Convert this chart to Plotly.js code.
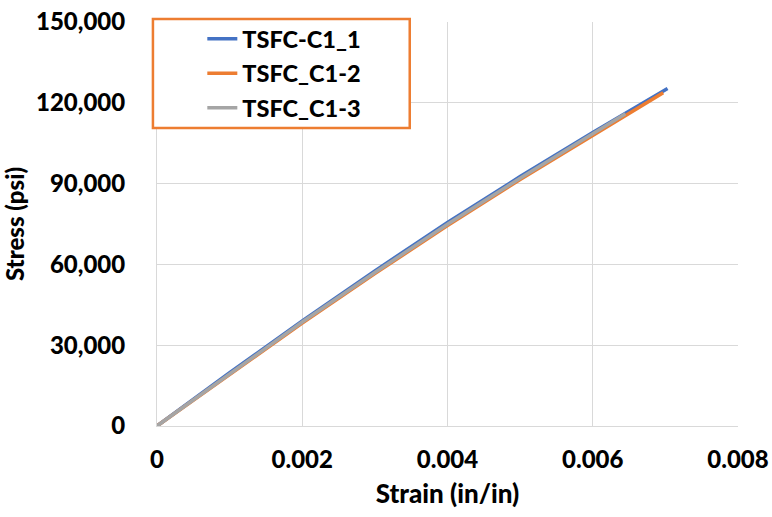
<!DOCTYPE html>
<html>
<head>
<meta charset="utf-8">
<script src="https://cdn.plot.ly/plotly-3.0.1.min.js"></script>
<style>
  html, body { margin: 0; padding: 0; background: #ffffff; }
  #chart { width: 772px; height: 517px; }
</style>
</head>
<body>
<div id="chart"></div>
<script>
// Tensile test curves, three coupons
const seriesNames = ['TSFC-C1_1', 'TSFC_C1-2', 'TSFC_C1-3'];

const strain1 = [0, 0.001, 0.002, 0.003, 0.004, 0.005, 0.006, 0.00703];
const stress1 = [0, 19800, 39000, 57600, 75600, 92600, 109000, 125300];

const strain2 = [0, 0.001, 0.002, 0.003, 0.004, 0.005, 0.006, 0.00697];
const stress2 = [0, 19300, 38200, 56600, 74400, 91500, 107900, 123700];

const strain3 = [0, 0.001, 0.002, 0.003, 0.004, 0.005, 0.006, 0.00645];
const stress3 = [0, 19500, 38600, 57000, 74900, 92000, 108400, 115900];

const xTicks = [0, 0.002, 0.004, 0.006, 0.008];
const xTickText = ['0', '0.002', '0.004', '0.006', '0.008'];
const yTicks = [0, 30000, 60000, 90000, 120000, 150000];
const yTickText = ['0', '30,000', '60,000', '90,000', '120,000', '150,000'];

const colors = ['#4472C4', '#ED7D31', '#A5A5A5'];
const FONT = 'Lato, "Open Sans", "DejaVu Sans", sans-serif';

const xs = [strain1, strain2, strain3];
const ys = [stress1, stress2, stress3];

const traces = seriesNames.map((name, i) => ({
  type: 'scatter',
  mode: 'lines',
  name: name,
  x: xs[i],
  y: ys[i],
  legendgroup: 'g' + i,
  line: { color: colors[i], width: 3.5 },
  hoverinfo: 'skip'
}));

const layout = {
  width: 772,
  height: 517,
  margin: { l: 157, r: 34, t: 22, b: 91 },
  paper_bgcolor: '#ffffff',
  plot_bgcolor: '#ffffff',
  showlegend: true,
  legend: {
    x: 0.078, xanchor: 'left',
    y: 1.0124, yanchor: 'top',
    bgcolor: 'rgba(0,0,0,0)',
    borderwidth: 0,
    traceorder: 'grouped',
    tracegroupgap: 1,
    font: { family: FONT, size: 23.5, color: '#000000', weight: 900 }
  },
  shapes: [{
    type: 'rect',
    xref: 'paper', yref: 'paper',
    x0: -0.007, x1: 0.435,
    y0: 0.7376, y1: 1.0074,
    line: { color: '#ED7D31', width: 2.5 },
    fillcolor: '#ffffff',
    layer: 'above'
  }],
  xaxis: {
    range: [0, 0.008],
    tickvals: xTicks,
    ticktext: xTickText,
    showgrid: true,
    gridcolor: '#d9d9d9',
    gridwidth: 1,
    zeroline: false,
    showline: true,
    linecolor: '#d9d9d9',
    linewidth: 1,
    ticks: '',
    ticklabelstandoff: 12,
    tickfont: { family: FONT, size: 24, color: '#000000', weight: 900 },
    title: {
      text: 'Strain (in/in)',
      font: { family: FONT, size: 26, color: '#000000', weight: 900 },
      standoff: 13
    },
    fixedrange: true
  },
  yaxis: {
    range: [0, 150000],
    tickvals: yTicks,
    ticktext: yTickText,
    showgrid: true,
    gridcolor: '#d9d9d9',
    gridwidth: 1,
    zeroline: false,
    showline: true,
    linecolor: '#d9d9d9',
    linewidth: 1,
    ticks: '',
    ticklabelstandoff: 26,
    tickfont: { family: FONT, size: 24, color: '#000000', weight: 900 },
    title: {
      text: 'Stress (psi)',
      font: { family: FONT, size: 24, color: '#000000', weight: 900 },
      standoff: 7
    },
    fixedrange: true
  }
};

Plotly.newPlot('chart', traces, layout, { displayModeBar: false, staticPlot: true });
</script>
</body>
</html>
